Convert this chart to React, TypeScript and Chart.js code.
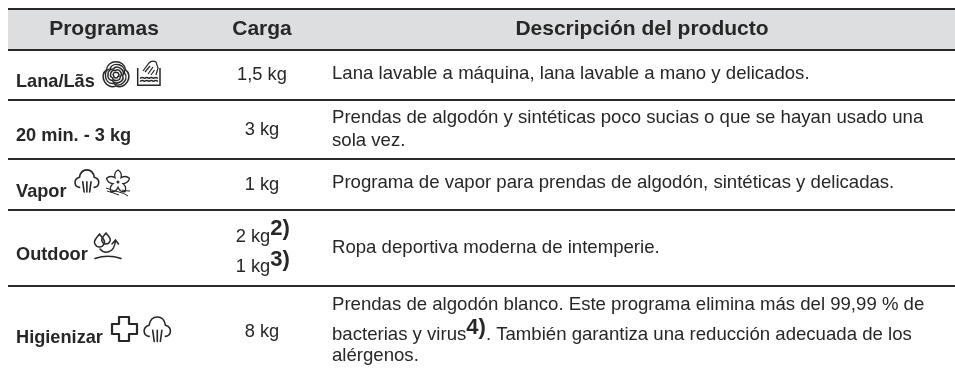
import React, { useEffect, useRef } from "react";
import { Chart, registerables } from "chart.js";

Chart.register(...registerables);

const headers = ["Programas", "Carga", "Descripción del producto"];
const programs = ["Lana/Lãs", "20 min. - 3 kg", "Vapor", "Outdoor", "Higienizar"];
const loads = ["1,5 kg", "3 kg", "1 kg", "2 kg", "1 kg", "8 kg"];
const loadNotes = ["", "", "", "2)", "3)", ""];
const descriptions = [
  "Lana lavable a máquina, lana lavable a mano y delicados.",
  "Prendas de algodón y sintéticas poco sucias o que se hayan usado una",
  "sola vez.",
  "Programa de vapor para prendas de algodón, sintéticas y delicadas.",
  "Ropa deportiva moderna de intemperie.",
  "Prendas de algodón blanco. Este programa elimina más del 99,99 % de",
  "bacterias y virus",
  ". También garantiza una reducción adecuada de los",
  "alérgenos.",
];
const rowEdges = [9, 49.5, 100, 159, 210, 286];

const INK = "#272727";
const SANS = '"Liberation Sans", Arial, sans-serif';

function text(ctx: CanvasRenderingContext2D, s: string, x: number, y: number, font: string, align: CanvasTextAlign = "left") {
  ctx.font = font;
  ctx.textAlign = align;
  ctx.textBaseline = "alphabetic";
  ctx.fillStyle = INK;
  ctx.fillText(s, x, y);
}

function cloud(ctx: CanvasRenderingContext2D, x: number, y: number, k: number) {
  ctx.save();
  ctx.translate(x, y);
  ctx.scale(k, k);
  ctx.lineWidth = 1.6 / k;
  ctx.lineCap = "round";
  ctx.beginPath();
  ctx.moveTo(6, 20);
  ctx.bezierCurveTo(0, 19, -1, 11, 6, 9);
  ctx.bezierCurveTo(7, 3, 10, 1, 14, 1);
  ctx.bezierCurveTo(18, 1, 21, 3, 22, 9);
  ctx.bezierCurveTo(29, 11, 28, 19, 22, 20);
  ctx.stroke();
  ctx.beginPath();
  ctx.moveTo(9.5, 14); ctx.lineTo(11, 25);
  ctx.moveTo(14, 14); ctx.lineTo(14, 25);
  ctx.moveTo(18.5, 14); ctx.lineTo(17, 25);
  ctx.stroke();
  ctx.restore();
}

function wool(ctx: CanvasRenderingContext2D, cx: number, cy: number) {
  ctx.save();
  ctx.translate(cx, cy);
  ctx.lineWidth = 1.5;
  for (let i = 0; i < 5; i++) {
    const r = 15 - i * 2.9;
    ctx.save();
    ctx.rotate(i * 0.3);
    ctx.beginPath();
    for (let j = 0; j < 3; j++) {
      const a = (j * 2 * Math.PI) / 3 - Math.PI / 2;
      const c = a + Math.PI / 3;
      if (j === 0) ctx.moveTo(Math.cos(c - (2 * Math.PI) / 3) * r * 0.72, Math.sin(c - (2 * Math.PI) / 3) * r * 0.72);
      ctx.bezierCurveTo(
        Math.cos(a - 0.5) * r * 1.2, Math.sin(a - 0.5) * r * 1.2,
        Math.cos(a + 0.5) * r * 1.2, Math.sin(a + 0.5) * r * 1.2,
        Math.cos(c) * r * 0.72, Math.sin(c) * r * 0.72
      );
    }
    ctx.closePath();
    ctx.stroke();
    ctx.restore();
  }
  ctx.restore();
}

function basin(ctx: CanvasRenderingContext2D, x: number, y: number) {
  ctx.save();
  ctx.translate(x, y);
  ctx.lineWidth = 1.5;
  ctx.beginPath();
  ctx.moveTo(0.7, 8); ctx.lineTo(0.7, 25.3); ctx.lineTo(23, 25.3); ctx.lineTo(23, 8);
  ctx.stroke();
  ctx.lineWidth = 1.2;
  ctx.beginPath();
  ctx.moveTo(6, 11); ctx.lineTo(12, 3); ctx.quadraticCurveTo(15, 0, 19, 2);
  ctx.lineTo(21, 8); ctx.lineTo(19, 15);
  ctx.stroke();
  ctx.beginPath();
  ctx.moveTo(8, 12); ctx.lineTo(13, 6);
  ctx.moveTo(11, 14); ctx.lineTo(16, 7);
  ctx.moveTo(14, 15); ctx.lineTo(17.5, 10);
  ctx.stroke();
  for (const wy of [18.5, 21.5]) {
    ctx.beginPath();
    for (let i = 0; i < 4; i++) {
      ctx.moveTo(3 + i * 4.5, wy);
      ctx.quadraticCurveTo(5.2 + i * 4.5, wy - 2, 7.5 + i * 4.5, wy);
    }
    ctx.stroke();
  }
  ctx.restore();
}

function flower(ctx: CanvasRenderingContext2D, cx: number, cy: number) {
  ctx.save();
  ctx.translate(cx, cy);
  ctx.lineWidth = 1.3;
  ctx.lineJoin = "miter";
  ctx.beginPath();
  for (let j = 0; j < 5; j++) {
    const a = (j * 2 * Math.PI) / 5 - Math.PI / 2;
    const next = a + (2 * Math.PI) / 5;
    const m = a + Math.PI / 5;
    if (j === 0) ctx.moveTo(Math.cos(a) * 12, Math.sin(a) * 12);
    ctx.quadraticCurveTo(Math.cos(a + 0.42) * 10.5, Math.sin(a + 0.42) * 10.5, Math.cos(m) * 5.2, Math.sin(m) * 5.2);
    ctx.quadraticCurveTo(Math.cos(next - 0.42) * 10.5, Math.sin(next - 0.42) * 10.5, Math.cos(next) * 12, Math.sin(next) * 12);
  }
  ctx.closePath();
  ctx.stroke();
  ctx.beginPath();
  ctx.arc(0, 0, 1.5, 0, Math.PI * 2);
  ctx.fill();
  ctx.lineWidth = 1;
  ctx.beginPath();
  ctx.moveTo(-12, 6); ctx.quadraticCurveTo(-4, 9, 1, 10); ctx.quadraticCurveTo(6, 11, 10, 14);
  ctx.moveTo(-11, 9); ctx.quadraticCurveTo(-4, 11, 1, 13);
  ctx.moveTo(4, 8); ctx.quadraticCurveTo(8, 9, 12, 9);
  ctx.stroke();
  ctx.restore();
}

function drop(ctx: CanvasRenderingContext2D, x: number, y: number, h: number) {
  const w = h * 0.36;
  ctx.beginPath();
  ctx.moveTo(x, y);
  ctx.bezierCurveTo(x + w * 0.6, y + h * 0.3, x + w * 1.4, y + h * 0.5, x + w, y + h * 0.75);
  ctx.bezierCurveTo(x + w * 0.6, y + h * 1.08, x - w * 0.6, y + h * 1.08, x - w, y + h * 0.75);
  ctx.bezierCurveTo(x - w * 1.4, y + h * 0.5, x - w * 0.6, y + h * 0.3, x, y);
  ctx.stroke();
}

function outdoor(ctx: CanvasRenderingContext2D, x: number, y: number) {
  ctx.save();
  ctx.translate(x, y);
  ctx.lineWidth = 1.5;
  ctx.lineCap = "round";
  drop(ctx, 4.5, 1, 13);
  drop(ctx, 11, 0, 11);
  ctx.beginPath();
  ctx.moveTo(5, 16);
  ctx.bezierCurveTo(9, 21, 19, 21, 20.5, 8);
  ctx.moveTo(17, 11); ctx.lineTo(20.5, 7); ctx.lineTo(23.5, 11);
  ctx.stroke();
  ctx.lineWidth = 1.7;
  ctx.beginPath();
  ctx.moveTo(0, 25.5); ctx.quadraticCurveTo(13, 21, 26, 25.5);
  ctx.stroke();
  ctx.restore();
}

function cross(ctx: CanvasRenderingContext2D, x: number, y: number) {
  ctx.save();
  ctx.translate(x, y);
  ctx.lineWidth = 2.2;
  ctx.lineJoin = "round";
  ctx.beginPath();
  ctx.moveTo(8, 1); ctx.lineTo(18, 1); ctx.lineTo(18, 8); ctx.lineTo(26, 8);
  ctx.lineTo(26, 18); ctx.lineTo(18, 18); ctx.lineTo(18, 25); ctx.lineTo(8, 25);
  ctx.lineTo(8, 18); ctx.lineTo(1, 18); ctx.lineTo(1, 8); ctx.lineTo(8, 8);
  ctx.closePath();
  ctx.stroke();
  ctx.restore();
}

const tablePlugin = {
  id: "programTable",
  beforeDraw(chart: any) {
    const { ctx } = chart;
    const { x: xs, y: ys } = chart.scales;
    ctx.save();
    ctx.fillStyle = "#dcdee0";
    ctx.fillRect(xs.left, ys.getPixelForValue(rowEdges[0]), xs.right - xs.left, ys.getPixelForValue(rowEdges[1]) - ys.getPixelForValue(rowEdges[0]));
    ctx.restore();
  },
  afterDraw(chart: any) {
    const { ctx } = chart;
    ctx.save();
    ctx.filter = "blur(0.35px)";
    ctx.strokeStyle = INK;
    ctx.fillStyle = INK;
    const H = `bold 21px ${SANS}`;
    const B = `bold 18.2px ${SANS}`;
    const L = `18.3px ${SANS}`;
    const R = `18.6px ${SANS}`;
    const N = `bold 22px ${SANS}`;
    text(ctx, headers[0], 104, 35, H, "center");
    text(ctx, headers[1], 262, 35, H, "center");
    text(ctx, headers[2], 642, 35, H, "center");

    [87, 141, 197, 260, 343].forEach((y, i) => text(ctx, programs[i], 16, y, B));

    [79.5, 135, 189.5, 241.5, 272, 336.5].forEach((y, i) => {
      const cell = loadNotes[i] ? 253 : 262;
      text(ctx, loads[i], cell, y, L, "center");
      if (loadNotes[i]) {
        ctx.font = L;
        const w = ctx.measureText(loads[i]).width;
        text(ctx, loadNotes[i], cell + w / 2, y - 6.5, N);
      }
    });

    const dx = 332;
    text(ctx, descriptions[0], dx, 79, R);
    text(ctx, descriptions[1], dx, 122.5, R);
    text(ctx, descriptions[2], dx, 145.5, R);
    text(ctx, descriptions[3], dx, 187.5, R);
    text(ctx, descriptions[4], dx, 253, R);
    text(ctx, descriptions[5], dx, 309.5, R);
    text(ctx, descriptions[6], dx, 339.5, R);
    ctx.font = R;
    const w1 = ctx.measureText(descriptions[6]).width;
    text(ctx, "4)", dx + w1, 334, N);
    ctx.font = N;
    const w2 = ctx.measureText("4)").width;
    text(ctx, descriptions[7], dx + w1 + w2, 339.5, R);
    text(ctx, descriptions[8], dx, 361, R);

    wool(ctx, 116, 75);
    basin(ctx, 137, 60);
    cloud(ctx, 74, 169, 0.92);
    flower(ctx, 118, 182);
    outdoor(ctx, 95, 233);
    cross(ctx, 111, 316);
    cloud(ctx, 143, 316, 1.02);
    ctx.restore();
  },
};

export default function App() {
  const ref = useRef<HTMLCanvasElement>(null);
  useEffect(() => {
    const chart = new Chart(ref.current!, {
      type: "scatter",
      data: { datasets: [{ data: [], pointRadius: 0 }] },
      plugins: [tablePlugin],
      options: {
        animation: false,
        responsive: false,
        events: [],
        layout: { padding: { left: 8, right: 0, top: 0, bottom: 0 } },
        plugins: { legend: { display: false }, tooltip: { enabled: false }, title: { display: false } },
        scales: {
          x: { type: "linear", min: 8, max: 955, display: false },
          y: {
            type: "linear",
            min: 0,
            max: 371,
            reverse: true,
            position: "left",
            border: { display: false },
            ticks: { display: false },
            grid: { drawTicks: false, color: "#2a2a2a", lineWidth: 2 },
            afterBuildTicks: (axis: any) => {
              axis.ticks = rowEdges.map((value) => ({ value }));
            },
            afterFit: (axis: any) => {
              axis.width = 0;
            },
          },
        },
      },
    } as any);
    return () => chart.destroy();
  }, []);
  return (
    <div style={{ position: "fixed", left: 0, top: 0, width: 955, height: 371, background: "#fff" }}>
      <canvas ref={ref} width={955} height={371} style={{ display: "block" }} />
    </div>
  );
}
